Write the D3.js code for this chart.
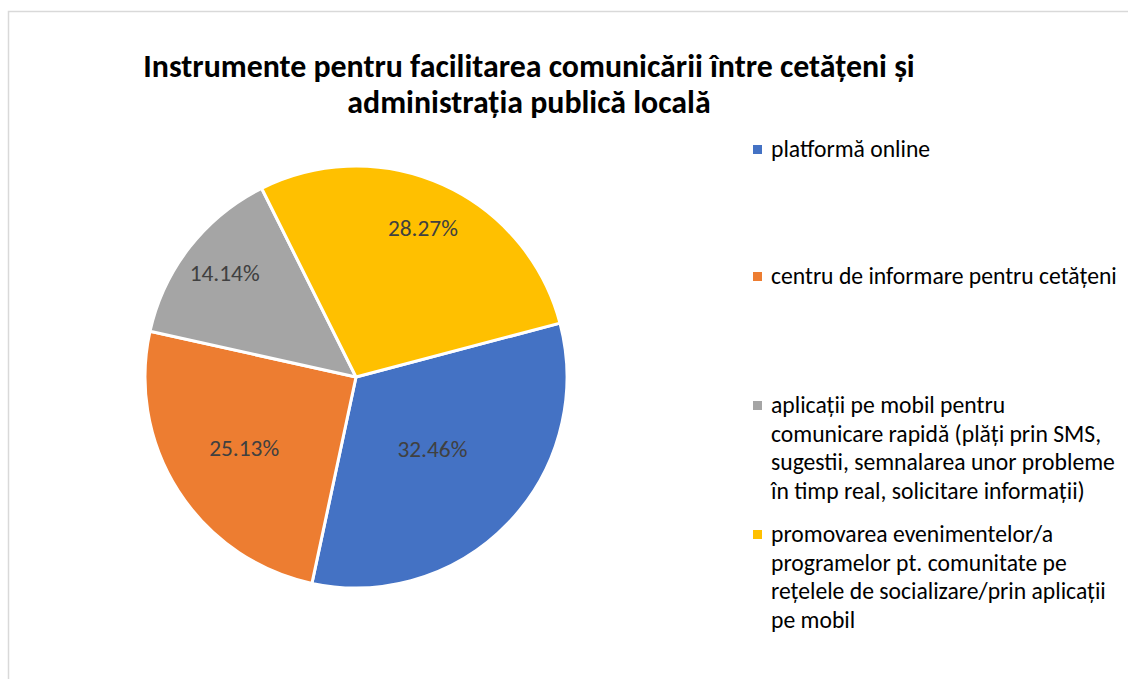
<!DOCTYPE html>
<html>
<head>
<meta charset="utf-8">
<script src="https://cdn.jsdelivr.net/npm/d3@7"></script>
<style>
  html, body { margin: 0; padding: 0; background: #fff; }
  svg { display: block; }
</style>
</head>
<body>
<svg id="chart" width="1128" height="679"></svg>
<script>
// Survey shares, in percent
const categories = [
  "platformă online",
  "centru de informare pentru cetățeni",
  "aplicații pe mobil pentru comunicare rapidă (plăți prin SMS, sugestii, semnalarea unor probleme în timp real, solicitare informații)",
  "promovarea evenimentelor/a programelor pt. comunitate pe rețelele de socializare/prin aplicații pe mobil"
];
const values = [32.46, 25.13, 14.14, 28.27];
const colors = ["#4472C4", "#ED7D31", "#A5A5A5", "#FFC000"];

// Legend text broken into lines as it wraps in the legend box
const legendLines = [
  ["platformă online"],
  ["centru de informare pentru cetățeni"],
  ["aplicații pe mobil pentru", "comunicare rapidă (plăți prin SMS,", "sugestii, semnalarea unor probleme", "în timp real, solicitare informații)"],
  ["promovarea evenimentelor/a", "programelor pt. comunitate pe", "rețelele de socializare/prin aplicații", "pe mobil"]
];
const titleLines = ["Instrumente pentru facilitarea comunicării între cetățeni și", "administrația publică locală"];

// Distance of each data label from the centre, as a fraction of the radius
const labelRadius = [0.50, 0.63, 0.79, 0.77];

const svg = d3.select("#chart");
const font = "Calibri, Carlito, 'Liberation Sans', Arial, sans-serif";

// Size a font so that a sample string takes the given width
function fitSize(sample, width, weight) {
  const t = svg.append("text")
    .attr("font-family", font).attr("font-size", 20)
    .attr("font-weight", weight || "normal").text(sample);
  const w = t.node().getComputedTextLength();
  t.remove();
  return 20 * width / w;
}

// Chart area frame
svg.append("rect")
  .attr("x", 8.5).attr("y", 11.5)
  .attr("width", 1200).attr("height", 800)
  .attr("fill", "#fff")
  .attr("stroke", "#d9d9d9").attr("stroke-width", 1.5);

// Title
const titleSize = fitSize(titleLines[0], 772, "bold");
svg.append("g").selectAll("text").data(titleLines).join("text")
  .attr("x", 529).attr("y", (d, i) => 77 + i * 36)
  .attr("text-anchor", "middle")
  .attr("font-family", font).attr("font-weight", "bold")
  .attr("font-size", titleSize).attr("fill", "#000")
  .text(d => d);

// Pie
const cx = 356, cy = 377, R = 211;
const startAngle = 75.2 * Math.PI / 180;
const pie = d3.pie().sort(null).value(d => d)
  .startAngle(startAngle).endAngle(startAngle + 2 * Math.PI);
const arcs = pie(values);
const arc = d3.arc().innerRadius(0).outerRadius(R);

const g = svg.append("g").attr("transform", `translate(${cx},${cy})`);
g.selectAll("path").data(arcs).join("path")
  .attr("d", arc)
  .attr("fill", (d, i) => colors[i])
  .attr("stroke", "#fff").attr("stroke-width", 3)
  .attr("stroke-linejoin", "round");

// Data labels
const labelSize = fitSize("32.46%", 70);
g.selectAll("text").data(arcs).join("text")
  .attr("transform", (d, i) => {
    const r = R * labelRadius[i];
    const c = d3.arc().innerRadius(r).outerRadius(r).centroid(d);
    return `translate(${c[0]},${c[1]})`;
  })
  .attr("dy", "0.3em")
  .attr("text-anchor", "middle")
  .attr("font-family", font).attr("font-size", labelSize)
  .attr("fill", "#404040")
  .text(d => d3.format(".2f")(d.data) + "%");

// Legend
const legendX = 753;
const firstBaselines = [157, 284, 413, 542];
const lineHeight = 28.5;
const legendSize = fitSize("centru de informare pentru cetățeni", 346);
const legend = svg.append("g");
const items = legend.selectAll("g").data(categories).join("g");
items.append("rect")
  .attr("x", legendX).attr("y", (d, i) => firstBaselines[i] - 12)
  .attr("width", 9).attr("height", 9)
  .attr("fill", (d, i) => colors[i]);
items.each(function(d, i) {
  d3.select(this).selectAll("text").data(legendLines[i]).join("text")
    .attr("x", legendX + 18)
    .attr("y", (t, j) => firstBaselines[i] + j * lineHeight)
    .attr("font-family", font).attr("font-size", legendSize)
    .attr("fill", "#000")
    .text(t => t);
});
</script>
</body>
</html>
